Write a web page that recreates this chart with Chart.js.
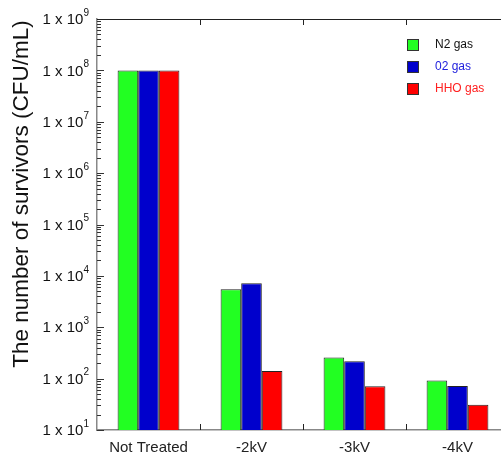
<!DOCTYPE html>
<html>
<head>
<meta charset="utf-8">
<script src="https://cdn.jsdelivr.net/npm/chart.js@4"></script>
<style>
  html, body { margin: 0; padding: 0; background: #fff; overflow: hidden; }
  canvas { display: block; }
</style>
</head>
<body>
<canvas id="survivors" width="512" height="456" style="width:512px;height:456px"></canvas>
<script>
// values (CFU/mL, log axis)
const categories = ['Not Treated', '-2kV', '-3kV', '-4kV'];
const n2Gas = [1e8, 5500, 258, 92];
const o2Gas = [1e8, 7200, 219, 72];
const hhoGas = [1e8, 140, 71, 31];
const seriesNames = ['N2 gas', '02 gas', 'HHO gas'];
const tickExponents = [1, 2, 3, 4, 5, 6, 7, 8, 9];

const barColors = ['#22ff22', '#0000cc', '#ff0000'];
const legendTextColors = ['#111111', '#2020dd', '#ff2020'];
const FONT = '"Liberation Sans", Arial, sans-serif';

const decorations = {
  id: 'decorations',
  afterDraw(chart) {
    const ctx = chart.ctx;
    const area = chart.chartArea;
    const x = chart.scales.x;
    const y = chart.scales.y;
    ctx.save();

    // inward log ticks on the y axis
    ctx.strokeStyle = '#333';
    ctx.lineWidth = 1;
    for (let e = 1; e <= 8; e++) {
      for (let m = 1; m <= 9; m++) {
        const py = Math.round(y.getPixelForValue(m * Math.pow(10, e))) + 0.5;
        const len = m === 1 ? 7 : 4;
        ctx.beginPath();
        ctx.moveTo(area.left, py);
        ctx.lineTo(area.left + len, py);
        ctx.stroke();
      }
    }

    // y tick labels "1 x 10^n"
    ctx.fillStyle = '#111';
    ctx.textBaseline = 'middle';
    tickExponents.forEach(e => {
      const py = y.getPixelForValue(Math.pow(10, e));
      ctx.font = '10px ' + FONT;
      const sup = String(e);
      const supW = ctx.measureText(sup).width;
      const right = area.left - 8;
      ctx.textAlign = 'left';
      ctx.fillText(sup, right - supW, py - 6);
      ctx.font = '15px ' + FONT;
      ctx.textAlign = 'right';
      ctx.fillText('1 x 10', right - supW, py + 1);
    });

    // top frame line and category boundary ticks
    const bounds = [];
    for (let i = 0; i < categories.length - 1; i++) {
      bounds.push((x.getPixelForValue(i) + x.getPixelForValue(i + 1)) / 2);
    }
    ctx.strokeStyle = '#222';
    ctx.beginPath();
    ctx.moveTo(area.left, area.top + 0.5);
    ctx.lineTo(area.right, area.top + 0.5);
    ctx.stroke();
    bounds.forEach(bx => {
      const px = Math.round(bx) + 0.5;
      ctx.beginPath();
      ctx.moveTo(px, area.top);
      ctx.lineTo(px, area.top + 6);
      ctx.moveTo(px, area.bottom);
      ctx.lineTo(px, area.bottom - 6);
      ctx.stroke();
    });

    // legend
    ctx.font = '12px ' + FONT;
    ctx.textAlign = 'left';
    ctx.textBaseline = 'middle';
    seriesNames.forEach((name, i) => {
      const top = 39 + i * 22;
      ctx.fillStyle = barColors[i];
      ctx.fillRect(407, top, 12, 12);
      ctx.strokeStyle = '#333';
      ctx.strokeRect(407.5, top + 0.5, 11, 11);
      ctx.fillStyle = legendTextColors[i];
      ctx.fillText(name, 435, top + 6);
    });

    // y axis title
    ctx.translate(22, 194);
    ctx.rotate(-Math.PI / 2);
    ctx.font = '22.5px ' + FONT;
    ctx.fillStyle = '#111';
    ctx.textAlign = 'center';
    ctx.textBaseline = 'middle';
    ctx.fillText('The number of survivors (CFU/mL)', 0, 0);
    ctx.restore();
  }
};

new Chart(document.getElementById('survivors'), {
  type: 'bar',
  data: {
    labels: categories,
    datasets: [n2Gas, o2Gas, hhoGas].map((vals, i) => ({
      label: seriesNames[i],
      data: vals,
      backgroundColor: barColors[i],
      borderColor: '#222',
      borderWidth: 1,
      categoryPercentage: 0.6,
      barPercentage: 1.0
    }))
  },
  options: {
    responsive: false,
    animation: false,
    layout: { padding: { top: 19, right: 3, left: 0, bottom: 0 } },
    plugins: { legend: { display: false }, tooltip: { enabled: false } },
    scales: {
      x: {
        grid: { display: false, drawTicks: false },
        border: { display: true, color: '#888', width: 1.5 },
        ticks: { color: '#222', font: { family: FONT, size: 15 }, padding: 9, maxRotation: 0 },
        afterFit(scale) { scale.height = 26; }
      },
      y: {
        type: 'logarithmic',
        min: 10,
        max: 1e9,
        grid: { display: false, drawTicks: false },
        border: { display: true, color: '#888', width: 1.5 },
        ticks: { display: false },
        afterFit(scale) { scale.width = 97; }
      }
    }
  },
  plugins: [decorations]
});
</script>
</body>
</html>
